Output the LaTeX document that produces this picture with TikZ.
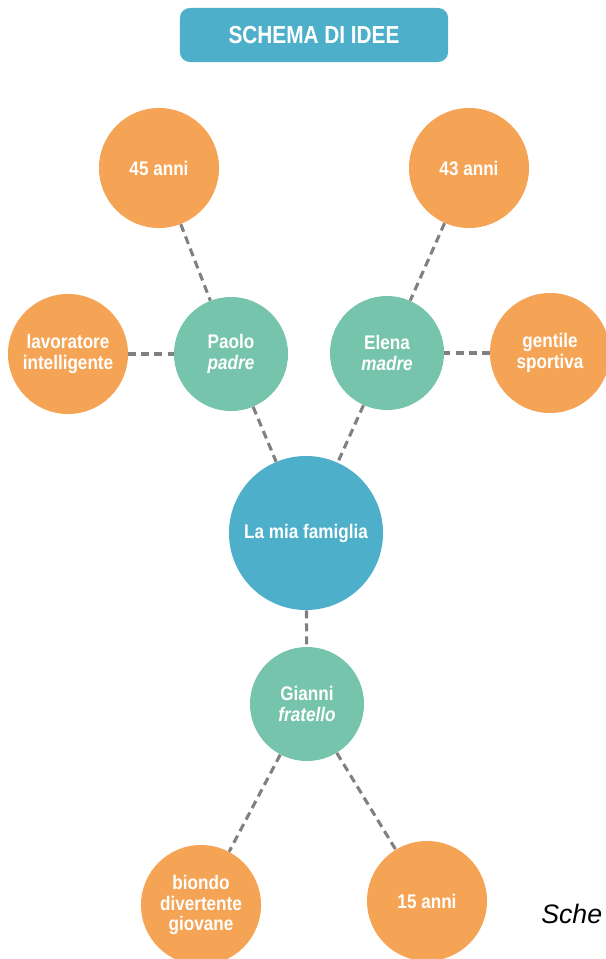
\documentclass[tikz,border=0pt]{standalone}
\usepackage{fontspec}
\newfontfamily\labfont{Liberation Sans}[FakeStretch=0.87]
\newfontfamily\titfont{Liberation Sans}[FakeStretch=0.845]
\newfontfamily\capfont{Liberation Sans}
\definecolor{attrorange}{HTML}{F5A455}
\definecolor{membgreen}{HTML}{76C4AC}
\definecolor{coreblue}{HTML}{4DAFC9}
\definecolor{linkgray}{HTML}{808080}
\tikzset{
  blob/.style = {
    circle, text=white, align=center, inner sep=0pt,
    font=\labfont\bfseries\fontsize{14}{14.5}\selectfont
  },
  attr/.style = {blob, fill=attrorange, minimum size=3cm},
  member/.style = {blob, fill=membgreen, minimum size=2.85cm},
  core/.style = {blob, fill=coreblue, minimum size=3.85cm},
  link/.style = {draw=linkgray, line width=2.2pt, dash pattern=on 5.7pt off 3.6pt}
}

\begin{document}
\begin{tikzpicture}[x=0.025cm,y=-0.025cm]
  \useasboundingbox (0,0) rectangle (605,959);
  % title
  \node[fill=coreblue, rounded corners=7pt, minimum width=6.7cm, minimum height=1.35cm,
    text=white, font=\titfont\bfseries\fontsize{17.5}{20}\selectfont] (title) at (314,35) {SCHEMA DI IDEE};
  % family
  \node[core] (fam) at (306,533) {La mia famiglia};
  \node[member] (paolo) at (231,354) {Paolo\\\textit{padre}};
  \node[member] (elena) at (387,353) {Elena\\\textit{madre}};
  \node[member] (gianni) at (307,704) {Gianni\\\textit{fratello}};
  % attributes
  \node[attr] (pa1) at (159,168) {45 anni};
  \node[attr] (pa2) at (68,354) {lavoratore\\intelligente};
  \node[attr] (el1) at (469,168) {43 anni};
  \node[attr] (el2) at (550,353) {gentile\\sportiva};
  \node[attr] (gi1) at (201,905) {biondo\\divertente\\giovane};
  \node[attr] (gi2) at (427,901) {15 anni};
  % links
  \foreach \a/\b in {pa1/paolo, pa2/paolo, paolo/fam, el1/elena, el2/elena, elena/fam, fam/gianni, gianni/gi1, gianni/gi2} {%
    \draw[link] (\a) -- (\b);
  }
  % caption
  \node[anchor=base west, inner sep=0pt, font=\capfont\itshape\fontsize{19}{23}\selectfont] (cap) at (541,923) {Sche};
\end{tikzpicture}
\end{document}
